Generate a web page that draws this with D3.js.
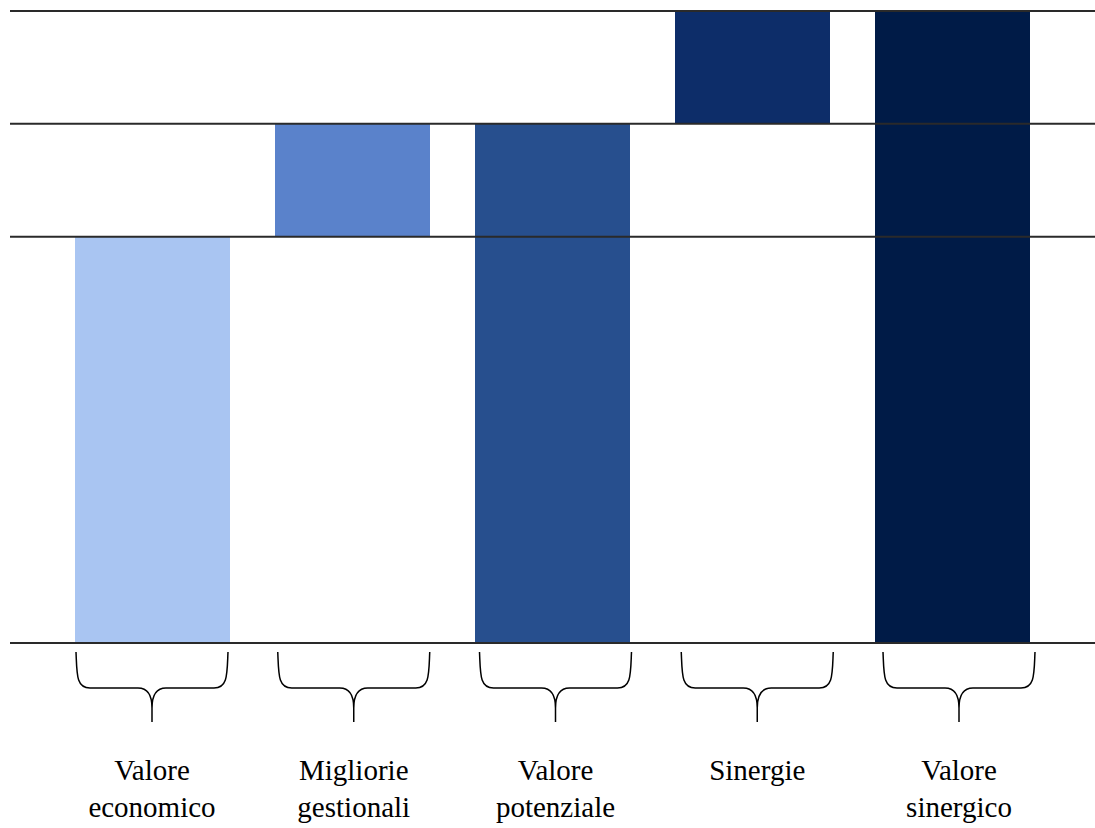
<!DOCTYPE html>
<html>
<head>
<meta charset="utf-8">
<script src="https://cdn.jsdelivr.net/npm/d3@7/dist/d3.min.js"></script>
<style>
  html, body { margin: 0; padding: 0; background: #fff; }
  svg { display: block; }
  .cat-label { font-family: "Liberation Serif", "Times New Roman", serif; font-size: 29px; }
</style>
</head>
<body>
<svg id="chart" width="1095" height="828"></svg>
<script>
// Value build-up: each step stacks on top of the previous total
const categories = ["Valore economico", "Migliorie gestionali", "Valore potenziale", "Sinergie", "Valore sinergico"];
const labelLines = [["Valore", "economico"], ["Migliorie", "gestionali"], ["Valore", "potenziale"], ["Sinergie"], ["Valore", "sinergico"]];
const barStart = [0, 3.6, 0, 4.6, 0];
const barEnd = [3.6, 4.6, 4.6, 5.6, 5.6];
const levels = [0, 3.6, 4.6, 5.6];
const colors = ["#a9c5f2", "#5a82cb", "#274f8e", "#0d2d69", "#001b47"];

const svg = d3.select("#chart");

const x = d3.scaleBand().domain(categories)
  .range([52.5, 1052.5]).paddingInner(0.225).paddingOuter(0.1125);
const xBrace = d3.scaleBand().domain(categories)
  .range([76, 1035]).paddingInner(0.2466).paddingOuter(0);
const y = d3.scaleLinear().domain([0, 5.6]).range([643, 11]);

// bars
svg.append("g").selectAll("rect")
  .data(categories)
  .join("rect")
  .attr("x", d => x(d))
  .attr("width", x.bandwidth())
  .attr("y", (d, i) => y(barEnd[i]))
  .attr("height", (d, i) => y(barStart[i]) - y(barEnd[i]))
  .attr("fill", (d, i) => colors[i]);

// level lines
svg.append("g").selectAll("line")
  .data(levels)
  .join("line")
  .attr("x1", 10).attr("x2", 1095)
  .attr("y1", d => y(d)).attr("y2", d => y(d))
  .attr("stroke", "#2a2a2a")
  .attr("stroke-width", 2);

// curly braces under each bar
function bracePath(a, b) {
  const m = (a + b) / 2, top = 652, mid = 688, tip = 722;
  return `M${a},${top} C${a + 1},${top + 22} ${a},${mid} ${a + 14},${mid}` +
         ` L${m - 14},${mid} C${m - 4},${mid} ${m},${mid + 8} ${m},${mid + 20} L${m},${tip}` +
         ` M${b},${top} C${b - 1},${top + 22} ${b},${mid} ${b - 14},${mid}` +
         ` L${m + 14},${mid} C${m + 4},${mid} ${m},${mid + 8} ${m},${mid + 20}`;
}
svg.append("g").selectAll("path")
  .data(categories)
  .join("path")
  .attr("d", d => bracePath(xBrace(d), xBrace(d) + xBrace.bandwidth()))
  .attr("fill", "none")
  .attr("stroke", "#000")
  .attr("stroke-width", 1.5);

// category labels
const lab = svg.append("g").selectAll("text")
  .data(categories)
  .join("text")
  .attr("class", "cat-label")
  .attr("text-anchor", "middle")
  .attr("fill", "#000");
lab.selectAll("tspan")
  .data((d, i) => labelLines[i].map(t => ({ t, c: xBrace(d) + xBrace.bandwidth() / 2 })))
  .join("tspan")
  .attr("x", d => d.c)
  .attr("y", (d, j) => 780 + j * 37)
  .text(d => d.t);
</script>
</body>
</html>
